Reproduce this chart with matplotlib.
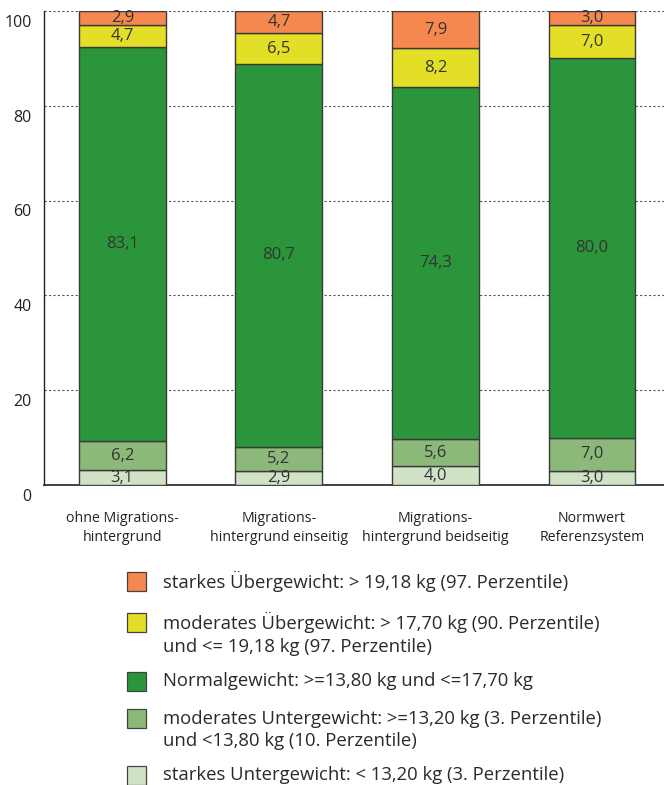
import matplotlib
matplotlib.use("Agg")
import matplotlib.pyplot as plt
import matplotlib.transforms as mtransforms
from matplotlib.patches import Rectangle
import numpy as np

plt.rcParams['font.family'] = ['Open Sans', 'DejaVu Sans']

# Data
groups = ['ohne Migrations-\nhintergrund', 'Migrations-\nhintergrund einseitig',
          'Migrations-\nhintergrund beidseitig', 'Normwert\nReferenzsystem']
# bottom to top
starkes_unter = [3.1, 2.9, 4.0, 3.0]
moderates_unter = [6.2, 5.2, 5.6, 7.0]
normal = [83.1, 80.7, 74.3, 80.0]
moderates_ueber = [4.7, 6.5, 8.2, 7.0]
starkes_ueber = [2.9, 4.7, 7.9, 3.0]

series = [starkes_unter, moderates_unter, normal, moderates_ueber, starkes_ueber]
colors = ['#d2e2c6', '#8cb879', '#2a953a', '#e2df26', '#f5884f']
legend_labels = [
    'starkes Übergewicht: > 19,18 kg (97. Perzentile)',
    'moderates Übergewicht: > 17,70 kg (90. Perzentile)\nund <= 19,18 kg (97. Perzentile)',
    'Normalgewicht: >=13,80 kg und <=17,70 kg',
    'moderates Untergewicht: >=13,20 kg (3. Perzentile)\nund <13,80 kg (10. Perzentile)',
    'starkes Untergewicht: < 13,20 kg (3. Perzentile)',
]

W, H = 664, 785
fig = plt.figure(figsize=(W / 100, H / 100), dpi=100)
ax = fig.add_axes([44 / W, 1 - 485 / H, 1 - 44 / W, (485 - 11) / H])

x = np.arange(len(groups))
bottom = np.zeros(len(groups))
for vals, col in zip(series, colors):
    vals = np.array(vals)
    ax.bar(x, vals, bottom=bottom, width=0.555, color=col, edgecolor='#3a3a3a',
           linewidth=1.0, zorder=3)
    for xi, b, v in zip(x, bottom, vals):
        ax.text(xi, b + v / 2, f'{v:.1f}'.replace('.', ','), ha='center', va='center',
                fontsize=12, color='#333333', zorder=4)
    bottom += vals

ax.set_xlim(-0.5, 3.46)
ax.set_ylim(0, 100)
ax.set_yticks([0, 20, 40, 60, 80, 100])
ax.yaxis.grid(True, linestyle=(0, (2, 2)), color='#555555', linewidth=0.8, zorder=0)
ax.set_axisbelow(True)
for s in ['top', 'right']:
    ax.spines[s].set_visible(False)
ax.spines['left'].set_color('#222222')
ax.spines['bottom'].set_color('#222222')
ax.spines['left'].set_linewidth(1.0)
ax.spines['bottom'].set_linewidth(1.2)
ax.tick_params(axis='y', length=0, pad=9, labelsize=11.5, labelcolor='#222222')
ax.tick_params(axis='x', length=0, pad=19, labelsize=10.2, labelcolor='#222222')
ax.set_xticks(x)
ax.set_xticklabels(groups, linespacing=1.3)

offset = mtransforms.ScaledTranslation(0, -7 / 72, fig.dpi_scale_trans)
for lbl in ax.get_yticklabels():
    lbl.set_transform(lbl.get_transform() + offset)

# legend drawn manually, top to bottom
box_y = [581, 622, 681, 718, 775]
text_y = [581, 634, 681, 730, 775]
legend_colors = colors[::-1]
for by, ty, col, lab in zip(box_y, text_y, legend_colors, legend_labels):
    fig.add_artist(Rectangle((127 / W, 1 - (by + 10) / H), 19 / W, 19 / H,
                             transform=fig.transFigure, facecolor=col,
                             edgecolor='#444444', linewidth=0.9))
    fig.text(163 / W, 1 - ty / H, lab, ha='left', va='center', fontsize=13.3,
             color='#2a2a2a', linespacing=1.3)

fig.savefig('out.png', dpi=100)
